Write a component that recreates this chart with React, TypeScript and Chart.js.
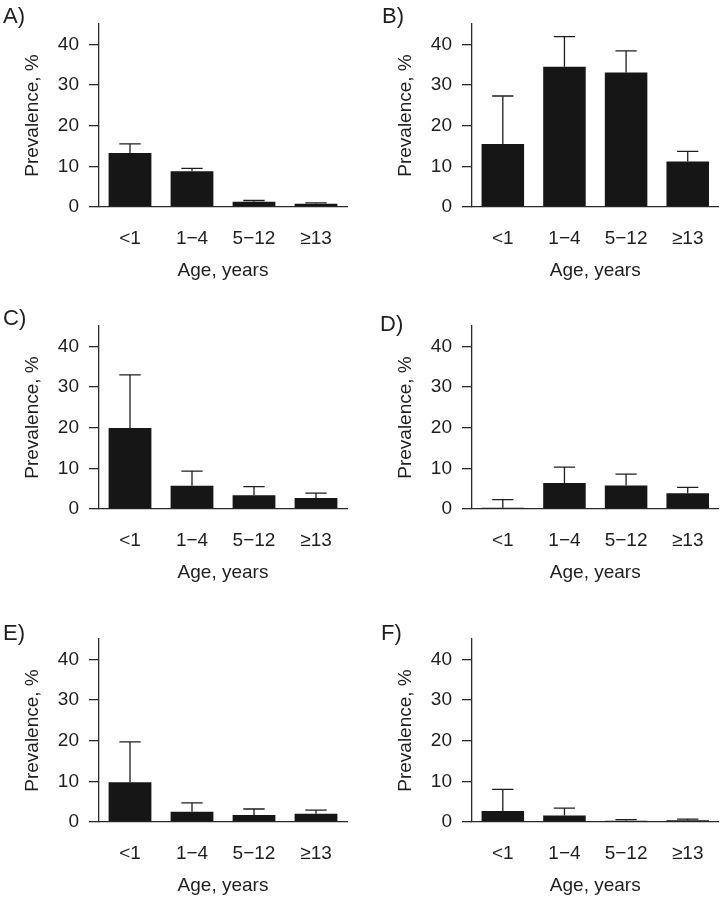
import React, { useEffect, useRef } from "react";
import { Chart, registerables } from "chart.js";

Chart.register(...registerables);

// ---- data ----
const categories = ["<1", "1\u22124", "5\u221212", "\u226513"];
const yTickValues = [0, 10, 20, 30, 40];
const yMax = 45;
const xTitle = "Age, years";
const yTitle = "Prevalence, %";

const prevA = [13.3, 8.8, 1.3, 0.8];
const upperA = [15.5, 9.5, 1.6, 1.0];
const prevB = [15.5, 34.5, 33.1, 11.2];
const upperB = [27.3, 41.9, 38.4, 13.7];
const prevC = [19.9, 5.7, 3.4, 2.7];
const upperC = [33.0, 9.3, 5.5, 3.9];
const prevD = [0.3, 6.4, 5.8, 3.9];
const upperD = [2.3, 10.3, 8.6, 5.3];
const prevE = [9.8, 2.5, 1.7, 2.0];
const upperE = [19.7, 4.7, 3.2, 2.9];
const prevF = [2.7, 1.6, 0.3, 0.4];
const upperF = [8.0, 3.4, 0.6, 0.7];

const panelLabels = ["A)", "B)", "C)", "D)", "E)", "F)"];
const panelValues = [prevA, prevB, prevC, prevD, prevE, prevF];
const panelUpper = [upperA, upperB, upperC, upperD, upperE, upperF];

// ---- layout (positions only) ----
const FONT = "'Liberation Sans', Arial, Helvetica, sans-serif";
const TEXT = "#1e1e1e";
const AXIS = "#2a2a2a";
const BAR = "#161616";
const FS = 19;

type Layout = {
  left: number;
  top: number;
  axisTop: number;
  zeroY: number;
  padLeft: number;
  padRight: number;
  labelX: number;
  labelY: number;
};

const rowGeom = [
  { top: 0, axisTop: 24, zeroY: 207 },
  { top: 300, axisTop: 326, zeroY: 509 },
  { top: 610, axisTop: 639, zeroY: 822 },
];
const labelPos = [
  [3, 16, 382, 16],
  [3, 318, 380, 324],
  [3, 633, 381, 633],
];

const layouts: Layout[] = [];
for (let r = 0; r < 3; r++) {
  for (let c = 0; c < 2; c++) {
    const g = rowGeom[r];
    layouts.push({
      left: c === 0 ? 0 : 362,
      top: g.top,
      axisTop: g.axisTop,
      zeroY: g.zeroY,
      padLeft: c === 0 ? 0 : 11,
      padRight: c === 0 ? 15 : 4,
      labelX: labelPos[r][c * 2],
      labelY: labelPos[r][c * 2 + 1],
    });
  }
}

const Y_WIDTH = 99;
const X_HEIGHT = 75;
const W = 362;

const errorBarPlugin = {
  id: "errorBars",
  afterDatasetsDraw(chart: any) {
    const upper: number[] = chart.options.plugins.errorBars?.upper || [];
    const meta = chart.getDatasetMeta(0);
    const yScale = chart.scales.y;
    const ctx = chart.ctx;
    ctx.save();
    ctx.strokeStyle = TEXT;
    ctx.lineWidth = 1.3;
    meta.data.forEach((bar: any, i: number) => {
      const u = upper[i];
      if (u == null) return;
      const x = bar.x;
      const yTop = bar.y;
      const yU = yScale.getPixelForValue(u);
      const half = bar.width / 4;
      ctx.beginPath();
      ctx.moveTo(x, yTop);
      ctx.lineTo(x, yU);
      ctx.moveTo(x - half, yU);
      ctx.lineTo(x + half, yU);
      ctx.stroke();
    });
    ctx.restore();
  },
};

function Panel({ idx }: { idx: number }) {
  const ref = useRef<HTMLCanvasElement | null>(null);
  const L = layouts[idx];
  const H = L.zeroY + X_HEIGHT - L.top;

  useEffect(() => {
    if (!ref.current) return;
    const chart = new Chart(ref.current, {
      type: "bar",
      data: {
        labels: categories,
        datasets: [
          {
            data: panelValues[idx],
            backgroundColor: BAR,
            borderWidth: 0,
            barPercentage: 0.69,
            categoryPercentage: 1,
          },
        ],
      },
      options: {
        animation: false,
        responsive: false,
        maintainAspectRatio: false,
        layout: {
          padding: {
            left: L.padLeft,
            right: L.padRight,
            top: L.axisTop - L.top,
            bottom: 0,
          },
        },
        plugins: {
          legend: { display: false },
          tooltip: { enabled: false },
          // @ts-ignore
          errorBars: { upper: panelUpper[idx] },
        },
        scales: {
          x: {
            type: "category",
            offset: true,
            grid: { display: false, drawTicks: false },
            border: { display: true, color: AXIS, width: 1.3 },
            ticks: {
              color: TEXT,
              font: { family: FONT, size: FS },
              padding: 20,
              maxRotation: 0,
            },
            title: {
              display: true,
              text: xTitle,
              color: TEXT,
              font: { family: FONT, size: FS },
              padding: { top: 0, bottom: 0 },
            },
            afterFit: (s: any) => {
              s.height = X_HEIGHT;
            },
          },
          y: {
            type: "linear",
            min: 0,
            max: yMax,
            grid: {
              display: true,
              drawOnChartArea: false,
              drawTicks: true,
              tickLength: 10,
              color: AXIS,
              lineWidth: 1.3,
            },
            border: { display: true, color: AXIS, width: 1.3 },
            ticks: {
              stepSize: 10,
              color: TEXT,
              font: { family: FONT, size: FS },
              padding: 10,
            },
            afterBuildTicks: (s: any) => {
              s.ticks = yTickValues.map((v) => ({ value: v }));
            },
            title: {
              display: true,
              text: yTitle,
              color: TEXT,
              font: { family: FONT, size: FS },
              padding: { top: 21, bottom: 0 },
            },
            afterFit: (s: any) => {
              s.width = Y_WIDTH;
            },
          },
        },
      } as any,
      plugins: [errorBarPlugin],
    });
    return () => chart.destroy();
  }, [idx]);

  return (
    <>
      <canvas
        ref={ref}
        width={W}
        height={H}
        style={{
          position: "absolute",
          left: L.left,
          top: L.top,
          width: W,
          height: H,
        }}
      />
      <div
        style={{
          position: "absolute",
          left: L.labelX,
          top: L.labelY - 11,
          fontFamily: FONT,
          fontSize: 22,
          lineHeight: "22px",
          color: TEXT,
          whiteSpace: "nowrap",
        }}
      >
        {panelLabels[idx]}
      </div>
    </>
  );
}

export default function App() {
  return (
    <div
      style={{
        position: "absolute",
        left: 0,
        top: 0,
        width: 724,
        height: 898,
        background: "#ffffff",
        overflow: "hidden",
      }}
    >
      {layouts.map((_, i) => (
        <Panel key={i} idx={i} />
      ))}
    </div>
  );
}
